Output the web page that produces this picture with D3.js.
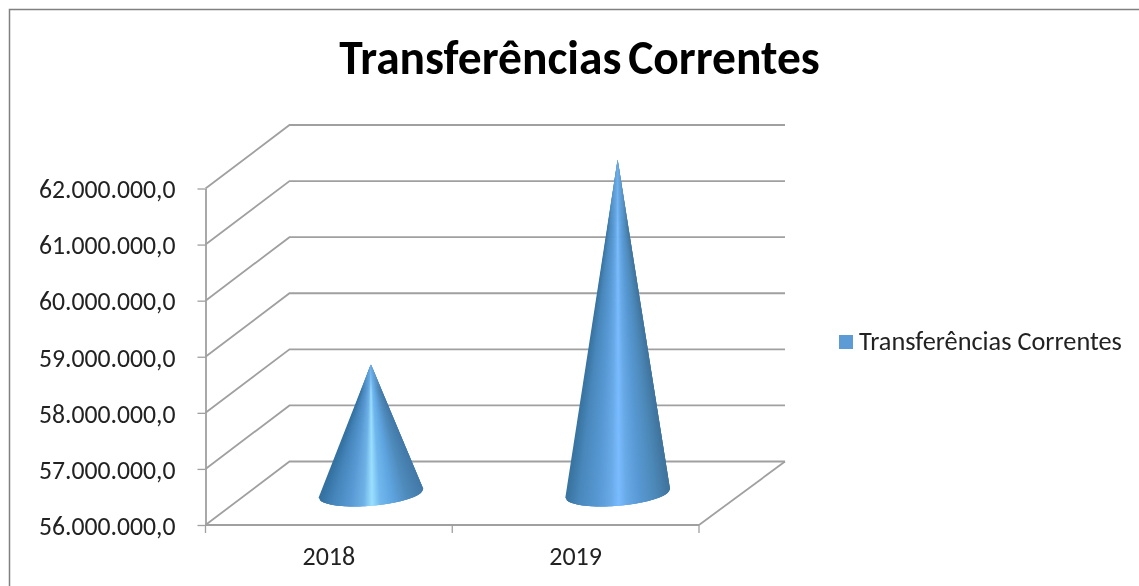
<!DOCTYPE html>
<html>
<head>
<meta charset="utf-8">
<script src="https://d3js.org/d3.v7.min.js"></script>
<style>
    html, body { margin: 0; padding: 0; background: #fff; }
    svg { display: block; }
    text { font-family: Carlito, Lato, "Open Sans", sans-serif; fill: #222; }
</style>
</head>
<body>
<div id="chart"></div>
<script>
const titleText = "Transferências Correntes"
const seriesName = "Transferências Correntes"
const years = ["2018", "2019"]
const values = [58300000, 61950000]
const yTicks = [56000000, 57000000, 58000000, 59000000, 60000000, 61000000, 62000000]
// brightness across each cone, left edge to right edge
const shadeOffsets = [0, 0.12, 0.3, 0.42, 0.5, 0.58, 0.7, 0.85, 1]
const shades2018 = ["#33709f", "#4585ba", "#5b9bd5", "#6fb2e6", "#9be0ff", "#72b8ee", "#5fa5e0", "#4f8aba", "#4279a8"]
const shades2019 = ["#38739f", "#4a88bc", "#5899d4", "#68a9e6", "#7abcff", "#68a9e6", "#5899d4", "#4e8aba", "#3f739c"]

const width = 1139
const height = 586
const depthX = 84 // 3D offset from front floor edge to back wall
const depthY = -63.5
const coneRx = 52.5
const coneRy = 12.5
const coneTilt = -4.9 // degrees, the base ellipse leans up to the right

const svg = d3.select("#chart").append("svg")
    .attr("width", width)
    .attr("height", height)
    .attr("viewBox", [0, 0, width, height])

// the reference is a slightly soft screenshot
const defs = svg.append("defs")
defs.append("filter")
    .attr("id", "soft")
    .attr("filterUnits", "userSpaceOnUse")
    .attr("x", 0).attr("y", 0).attr("width", width).attr("height", height)
    .append("feGaussianBlur")
    .attr("stdDeviation", 0.45)

const tipFade = defs.append("linearGradient")
    .attr("id", "tipFade")
    .attr("x1", 0).attr("x2", 0).attr("y1", 0).attr("y2", 1)
tipFade.append("stop").attr("offset", 0).attr("stop-color", "#6aabe6").attr("stop-opacity", 1)
tipFade.append("stop").attr("offset", 0.2).attr("stop-color", "#6aabe6").attr("stop-opacity", 0)

const root = svg.append("g").attr("filter", "url(#soft)")

const x = d3.scaleBand().domain(years).range([205.5, 699]).padding(0)
const y = d3.scaleLinear().domain([56000000, 62000000]).range([525, 188.5])
const locale = d3.formatLocale({decimal: ",", thousands: ".", grouping: [3], currency: ["", ""]})
const yFormat = locale.format(",.1f")
const gridColor = "#a0a0a0"

// outer frame, only top and left are visible
root.append("path")
    .attr("fill", "none")
    .attr("stroke", "#808080")
    .attr("stroke-width", 1.5)
    .attr("d", `M9.5,${height + 5}V9.5H${width + 5}`)

root.append("text")
    .attr("x", 579.5)
    .attr("y", 74)
    .attr("text-anchor", "middle")
    .attr("font-size", 47.5)
    .attr("font-weight", 700)
    .attr("word-spacing", -4)
    .style("fill", "#000")
    .text(titleText)

// side wall + back wall gridlines
const grid = root.append("g")
    .attr("fill", "none")
    .attr("stroke", gridColor)
    .attr("stroke-width", 1.8)
grid.selectAll("path")
    .data(yTicks)
    .join("path")
    .attr("d", d => `M${x.range()[0]},${y(d)}l${depthX},${depthY}H785`)

// floor: front edge and right edge
grid.append("path")
    .attr("d", `M${x.range()[1]},${y(yTicks[0])}L785,${y(yTicks[0]) + depthY}`)
grid.append("path")
    .attr("d", `M${x.range()[0]},${y(yTicks[0])}H${x.range()[1]}`)

// y axis
root.append("g")
    .attr("transform", `translate(${x.range()[0]},0)`)
    .call(d3.axisLeft(y).tickValues(yTicks).tickFormat(yFormat).tickSize(8).tickSizeOuter(0).tickPadding(22))
    .call(g => g.select(".domain").attr("stroke", gridColor).attr("stroke-width", 1.8))
    .call(g => g.selectAll(".tick line").attr("stroke", gridColor).attr("stroke-width", 1.3))
    .call(g => g.selectAll(".tick text").attr("font-size", 25.7).attr("dy", "0.36em").attr("font-family", null))

// x axis, labels at band centers and tick marks on band edges
root.append("g")
    .attr("transform", `translate(0,${y(yTicks[0])})`)
    .call(d3.axisBottom(x).tickSize(0).tickPadding(22))
    .call(g => g.select(".domain").remove())
    .call(g => g.selectAll(".tick text").attr("font-size", 26).attr("dy", "0.71em").attr("font-family", null))

root.append("g")
    .attr("stroke", gridColor)
    .attr("stroke-width", 1.3)
    .selectAll("line")
    .data(d3.range(years.length + 1))
    .join("line")
    .attr("x1", i => x.range()[0] + i * x.step())
    .attr("x2", i => x.range()[0] + i * x.step())
    .attr("y1", y(yTicks[0]))
    .attr("y2", y(yTicks[0]) + 8)

// cones stand mid-depth on the floor, drawn as thin wedges so the shading converges at the tip
const tilt = coneTilt * Math.PI / 180
const slices = 120

years.forEach((year, i) => {
    const cx = x(year) + x.bandwidth() / 2 + depthX / 2
    const cy = y(yTicks[0]) + depthY / 2
    const tipX = cx
    const tipY = y(values[i]) + depthY / 2
    const shade = d3.scaleLinear()
        .domain(shadeOffsets)
        .range(i === 0 ? shades2018 : shades2019)
        .interpolate(d3.interpolateRgb)

    const basePoint = f => {
        const t = Math.acos(1 - 2 * Math.min(f, 1))
        const px = -Math.cos(t) * coneRx
        const py = Math.sin(t) * coneRy
        return [cx + px * Math.cos(tilt) - py * Math.sin(tilt),
            cy + px * Math.sin(tilt) + py * Math.cos(tilt)]
    }

    // each wedge overlaps the next one, no seams between them
    root.append("g")
        .selectAll("path")
        .data(d3.range(slices))
        .join("path")
        .attr("d", k => {
            const a = basePoint(k / slices)
            const b = basePoint((k + 3) / slices)
            return `M${tipX},${tipY}L${a[0]},${a[1]}L${b[0]},${b[1]}Z`
        })
        .attr("fill", k => shade((k + 0.5) / slices))

    const left = basePoint(0)
    const right = basePoint(1)
    root.append("path")
        .attr("d", `M${tipX},${tipY}L${left[0]},${left[1]}L${right[0]},${right[1]}Z`)
        .attr("fill", "url(#tipFade)")
})

// legend
root.append("rect")
    .attr("x", 839)
    .attr("y", 335)
    .attr("width", 14)
    .attr("height", 14)
    .attr("fill", "#5b9bd5")

root.append("text")
    .attr("x", 859)
    .attr("y", 350)
    .attr("font-size", 26.3)
    .text(seriesName)
</script>
</body>
</html>
